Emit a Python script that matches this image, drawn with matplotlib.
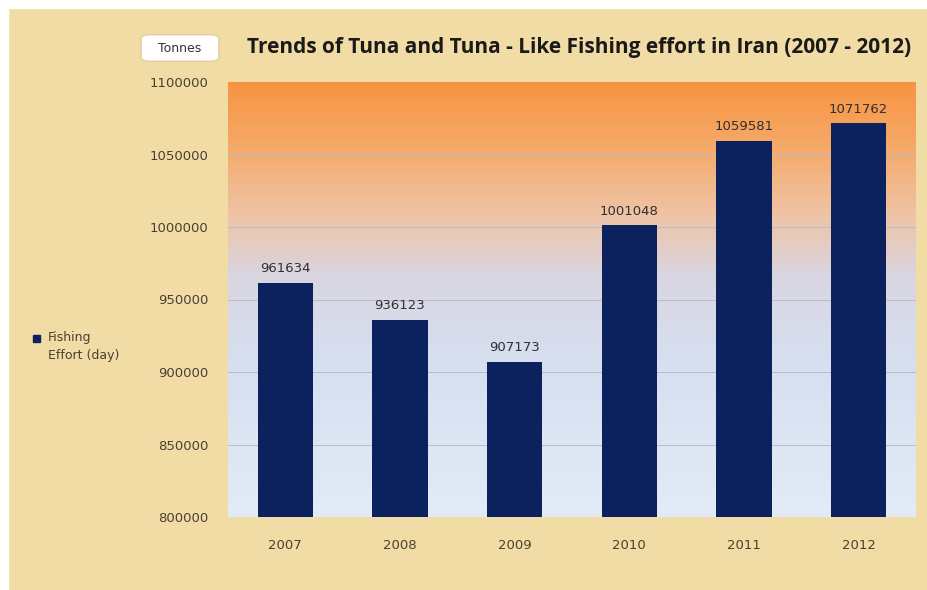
import numpy as np
import matplotlib.pyplot as plt
from matplotlib.colors import LinearSegmentedColormap
from matplotlib.patches import FancyBboxPatch, Rectangle

years = ['2007', '2008', '2009', '2010', '2011', '2012']
effort = [961634, 936123, 907173, 1001048, 1059581, 1071762]
yticks = [800000, 850000, 900000, 950000, 1000000, 1050000, 1100000]

parchment = '#f1dca6'
bar_color = '#0b225e'
text_color = '#4a4030'

fig = plt.figure(figsize=(9.28, 5.90), dpi=100)
fig.patch.set_facecolor(parchment)
# white frame on the left and top
fig.add_artist(Rectangle((0, 0), 8 / 928, 1, transform=fig.transFigure, color='white', zorder=0))
fig.add_artist(Rectangle((0, 1 - 8 / 590), 1, 8 / 590, transform=fig.transFigure, color='white', zorder=0))

ax = fig.add_axes([228 / 928, 1 - 517 / 590, (916 - 228) / 928, (517 - 82) / 590])

# gradient background: orange at top, light blue at bottom
cmap = LinearSegmentedColormap.from_list('bg', [
    (0.0, '#e3ebf7'),
    (0.35, '#d6dff0'),
    (0.55, '#d9d6e2'),
    (0.70, '#efc3a4'),
    (0.86, '#f5a866'),
    (1.0, '#f79441'),
])
grad = np.linspace(0, 1, 256).reshape(-1, 1)
ax.imshow(grad, cmap=cmap, aspect='auto', origin='lower',
          extent=[-0.5, 5.5, 800000, 1100000], zorder=0)

for t in yticks[1:-1]:
    ax.axhline(t, color='#b8bccb', linewidth=0.7, zorder=1)

x = np.arange(len(years))
ax.bar(x, effort, width=0.48, color=bar_color, zorder=3)
for xi, v in zip(x, effort):
    ax.text(xi, v + 5000, str(v), ha='center', va='bottom', fontsize=9.5,
            color='#303030', zorder=4)

ax.set_xlim(-0.5, 5.5)
ax.set_ylim(800000, 1100000)
ax.set_yticks(yticks)
ax.set_yticklabels([str(t) for t in yticks])
ax.set_xticks(x)
ax.set_xticklabels(years)
ax.tick_params(axis='both', length=0, colors=text_color, labelsize=9.5)
ax.tick_params(axis='y', pad=14)
ax.tick_params(axis='x', pad=16)
for s in ax.spines.values():
    s.set_visible(False)

# title (runs off the right edge like the original)
fig.text(247 / 928, 1 - 47 / 590, 'Trends of Tuna and Tuna - Like Fishing effort in Iran (2007 - 2012)',
         fontsize=15, fontweight='bold', color='#1a1a1a', va='center', ha='left',
         family='Open Sans')

# "Tonnes" callout
box = FancyBboxPatch((143 / 928, 1 - 60 / 590), 74 / 928, 24 / 590,
                     boxstyle='round,pad=0.002,rounding_size=0.008',
                     transform=fig.transFigure, facecolor='white', edgecolor='#e0c890',
                     linewidth=0.8, zorder=5)
fig.add_artist(box)
fig.text(180 / 928, 1 - 48 / 590, 'Tonnes', fontsize=9, color='#333333',
         ha='center', va='center', zorder=6)

# legend on the left
fig.add_artist(Rectangle((33 / 928, 1 - 342 / 590), 7 / 928, 7 / 590,
                         transform=fig.transFigure, color=bar_color))
fig.text(48 / 928, 1 - 338 / 590, 'Fishing', fontsize=9, color=text_color,
         ha='left', va='center')
fig.text(48 / 928, 1 - 356 / 590, 'Effort (day)', fontsize=9, color=text_color,
         ha='left', va='center')

fig.savefig('out.png', dpi=100, facecolor=fig.get_facecolor())
